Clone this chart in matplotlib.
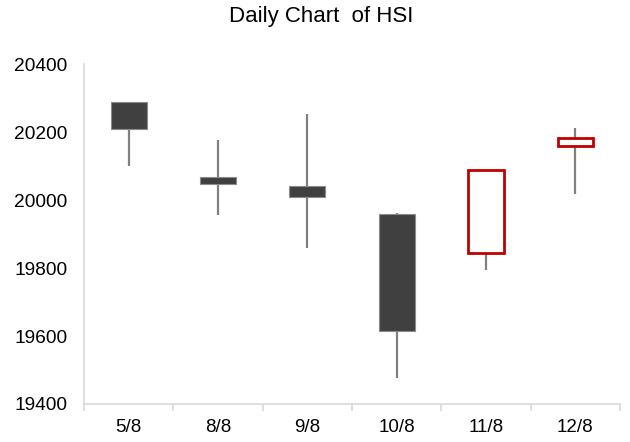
import matplotlib
matplotlib.use('Agg')
from matplotlib import pyplot as plt

plt.rcParams['font.family'] = ['Liberation Sans', 'DejaVu Sans']

# daily OHLC of the index
dates = ['5/8', '8/8', '9/8', '10/8', '11/8', '12/8']
open_ = [20289, 20069, 20042, 19959, 19843, 20160]
close = [20208, 20048, 20009, 19615, 20089, 20184]
high = [20289, 20177, 20253, 19962, 20089, 20211]
low = [20101, 19957, 19860, 19475, 19793, 20018]

fig = plt.figure(figsize=(6.3, 4.42), dpi=100)
ax = fig.add_axes([0.1333, 0.086, 0.851, 0.769])

x = list(range(len(dates)))

# wicks first so the bodies sit on top
ax.vlines(x, low, high, color='#808080', linewidth=1.6, zorder=1)

for i in x:
    o, c = open_[i], close[i]
    bottom = min(o, c)
    height = abs(c - o)
    if c >= o:
        ax.bar(i, height, bottom=bottom, width=0.4, facecolor='white',
               edgecolor='#C00000', linewidth=2, zorder=2)
    else:
        ax.bar(i, height, bottom=bottom, width=0.4, facecolor='#404040',
               edgecolor='#8c8c8c', linewidth=0.8, zorder=2)

ax.set_xlim(-0.5, len(dates) - 0.5)
ax.set_ylim(19400, 20400)
ax.set_yticks([19400, 19600, 19800, 20000, 20200, 20400])
ax.set_xticks(x)
ax.set_xticklabels(dates)
ax.set_xticks([i - 0.5 for i in range(len(dates) + 1)], minor=True)

ax.tick_params(axis='x', which='major', length=0, pad=11, labelsize=13.5)
ax.tick_params(axis='x', which='minor', length=5, color='#D9D9D9', width=1.2)
ax.tick_params(axis='y', length=0, pad=12, labelsize=13.8)

for side in ['top', 'right']:
    ax.spines[side].set_visible(False)
for side in ['left', 'bottom']:
    ax.spines[side].set_color('#D9D9D9')
    ax.spines[side].set_linewidth(1.2)

fig.text(0.510, 0.962, 'Daily Chart  of HSI', ha='center', va='center', fontsize=16)

fig.savefig('out.png', dpi=100)
